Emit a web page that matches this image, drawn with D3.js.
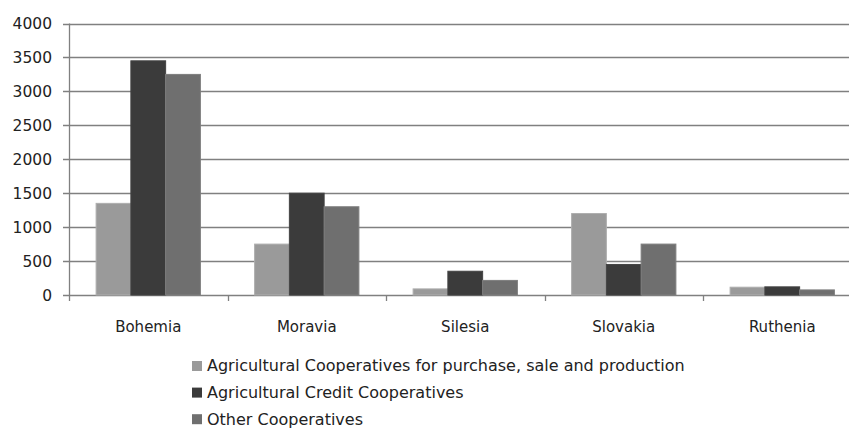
<!DOCTYPE html>
<html>
<head>
<meta charset="utf-8">
<script src="https://cdn.jsdelivr.net/npm/d3@7"></script>
<style>
  html, body { margin: 0; padding: 0; background: #fff; }
  svg { display: block; }
  text { font-family: "DejaVu Sans", sans-serif; fill: #222; }
</style>
</head>
<body>
<svg id="chart" width="849" height="429"></svg>
<script>
// Number of cooperatives by region
const regions = ["Bohemia", "Moravia", "Silesia", "Slovakia", "Ruthenia"];
const seriesNames = [
  "Agricultural Cooperatives for purchase, sale and production",
  "Agricultural Credit Cooperatives",
  "Other Cooperatives"
];
const purchaseSale = [1350, 750, 90, 1200, 115];
const credit       = [3450, 1500, 350, 450, 120];
const other        = [3250, 1300, 215, 750, 75];
const yTicks = [0, 500, 1000, 1500, 2000, 2500, 3000, 3500, 4000];
const seriesColors = ["#9a9a9a", "#3b3b3b", "#6f6f6f"];

const seriesValues = [purchaseSale, credit, other];

const svg = d3.select("#chart");
const W = 849, H = 429;
const plot = { left: 69, right: 861.5, top: 23.5, bottom: 295 };

const x0 = d3.scaleBand()
  .domain(regions)
  .range([plot.left, plot.right])
  .paddingInner(0)
  .paddingOuter(0);

const x1 = d3.scaleBand()
  .domain(d3.range(seriesNames.length))
  .range([0, x0.bandwidth()])
  .paddingOuter(0.78)
  .paddingInner(0);

const y = d3.scaleLinear().domain([0, 4000]).range([plot.bottom, plot.top]);

// horizontal gridlines with short ticks to the left of the axis
const gridG = svg.append("g");
gridG.selectAll("line.grid")
  .data(yTicks)
  .join("line")
  .attr("x1", plot.left - 6)
  .attr("x2", W)
  .attr("y1", d => Math.round(y(d)) + 0.5)
  .attr("y2", d => Math.round(y(d)) + 0.5)
  .attr("stroke", "#808080")
  .attr("stroke-width", 1.3);

// y axis line
svg.append("line")
  .attr("x1", plot.left + 0.5).attr("x2", plot.left + 0.5)
  .attr("y1", y(4000)).attr("y2", plot.bottom)
  .attr("stroke", "#808080").attr("stroke-width", 1.3);

// y tick labels
svg.append("g").selectAll("text")
  .data(yTicks)
  .join("text")
  .attr("x", 52)
  .attr("y", d => y(d))
  .attr("dy", "0.36em")
  .attr("text-anchor", "end")
  .attr("font-size", 15.5)
  .text(d => d);

// category tick marks below the baseline
const catEdges = regions.map(r => x0(r)).concat([x0(regions[regions.length - 1]) + x0.bandwidth()]);
svg.append("g").selectAll("line")
  .data(catEdges)
  .join("line")
  .attr("x1", d => Math.round(d) + 0.5).attr("x2", d => Math.round(d) + 0.5)
  .attr("y1", plot.bottom).attr("y2", plot.bottom + 6)
  .attr("stroke", "#808080").attr("stroke-width", 1.3);

// bars
const groups = svg.append("g").selectAll("g")
  .data(regions)
  .join("g")
  .attr("transform", d => `translate(${x0(d)},0)`);

groups.selectAll("rect")
  .data((r, i) => seriesValues.map((vals, s) => ({ s, v: vals[i] })))
  .join("rect")
  .attr("x", d => x1(d.s))
  .attr("width", x1.bandwidth())
  .attr("y", d => y(d.v))
  .attr("height", d => y(0) - y(d.v))
  .attr("fill", d => seriesColors[d.s])
  .attr("stroke", d => d3.color(seriesColors[d.s]).brighter(0.35))
  .attr("stroke-width", 1);

// category labels
svg.append("g").selectAll("text")
  .data(regions)
  .join("text")
  .attr("x", d => x0(d) + x0.bandwidth() / 2)
  .attr("y", 327)
  .attr("dy", "0.36em")
  .attr("text-anchor", "middle")
  .attr("font-size", 15)
  .text(d => d);

// legend
const legend = svg.append("g").attr("transform", "translate(192,366)");
const rows = legend.selectAll("g")
  .data(seriesNames)
  .join("g")
  .attr("transform", (d, i) => `translate(0,${i * 26.6})`);
rows.append("rect")
  .attr("x", 0).attr("y", -5)
  .attr("width", 10).attr("height", 10)
  .attr("fill", (d, i) => seriesColors[i]);
rows.append("text")
  .attr("x", 15)
  .attr("y", 0)
  .attr("dy", "0.34em")
  .attr("font-size", 16)
  .text(d => d);
</script>
</body>
</html>
